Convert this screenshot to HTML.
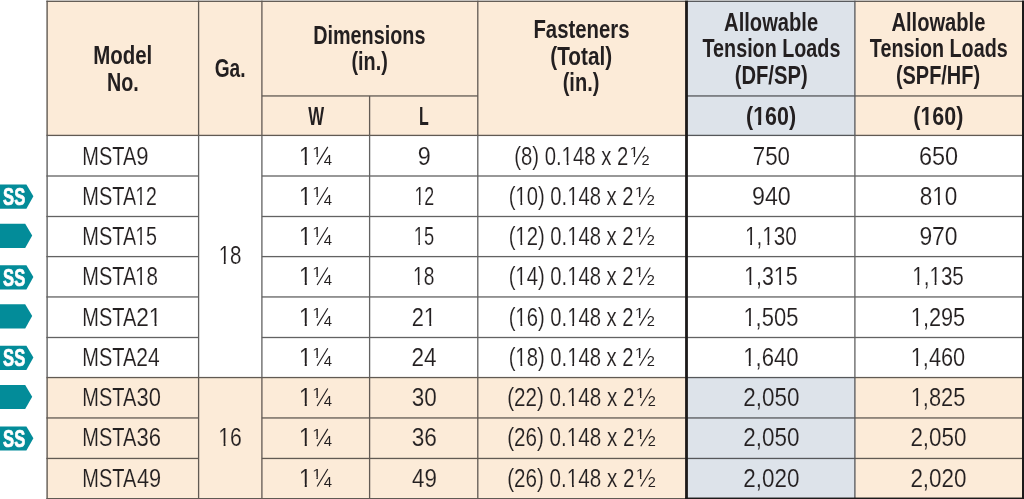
<!DOCTYPE html>
<html><head><meta charset="utf-8"><title>MSTA Strap Tie Table</title>
<style>
html,body{margin:0;padding:0;background:#fff;overflow:hidden}
svg{display:block;font-family:"Liberation Sans",sans-serif}
</style></head><body>
<svg width="1024" height="499" viewBox="0 0 1024 499">
<rect x="47.10" y="1.30" width="639.40" height="134.10" fill="#fcebd8"/>
<rect x="686.50" y="1.30" width="168.50" height="134.10" fill="#dde3ea"/>
<rect x="855.00" y="1.30" width="168.00" height="134.10" fill="#fcebd8"/>
<rect x="47.10" y="377.55" width="639.40" height="120.95" fill="#fcebd8"/>
<rect x="686.50" y="377.55" width="168.50" height="120.95" fill="#dde3ea"/>
<rect x="855.00" y="377.55" width="168.00" height="120.95" fill="#fcebd8"/>
<rect x="46.40" y="0.62" width="640.10" height="1.35" fill="#615a53"/>
<rect x="686.50" y="0.62" width="168.50" height="1.35" fill="#55575a"/>
<rect x="855.00" y="0.62" width="169.00" height="1.35" fill="#615a53"/>
<rect x="261.80" y="95.30" width="216.10" height="1.30" fill="#615a53"/>
<rect x="686.50" y="95.30" width="168.50" height="1.30" fill="#55575a"/>
<rect x="855.00" y="95.30" width="167.00" height="1.30" fill="#615a53"/>
<rect x="46.40" y="134.75" width="640.10" height="1.30" fill="#615a53"/>
<rect x="686.50" y="134.75" width="168.50" height="1.30" fill="#55575a"/>
<rect x="855.00" y="134.75" width="167.00" height="1.30" fill="#615a53"/>
<rect x="46.40" y="175.35" width="152.20" height="1.30" fill="#626262"/>
<rect x="261.80" y="175.35" width="424.70" height="1.30" fill="#626262"/>
<rect x="686.50" y="175.35" width="168.50" height="1.30" fill="#626262"/>
<rect x="855.00" y="175.35" width="167.00" height="1.30" fill="#626262"/>
<rect x="46.40" y="215.85" width="152.20" height="1.30" fill="#626262"/>
<rect x="261.80" y="215.85" width="424.70" height="1.30" fill="#626262"/>
<rect x="686.50" y="215.85" width="168.50" height="1.30" fill="#626262"/>
<rect x="855.00" y="215.85" width="167.00" height="1.30" fill="#626262"/>
<rect x="46.40" y="255.95" width="152.20" height="1.30" fill="#626262"/>
<rect x="261.80" y="255.95" width="424.70" height="1.30" fill="#626262"/>
<rect x="686.50" y="255.95" width="168.50" height="1.30" fill="#626262"/>
<rect x="855.00" y="255.95" width="167.00" height="1.30" fill="#626262"/>
<rect x="46.40" y="296.30" width="152.20" height="1.30" fill="#626262"/>
<rect x="261.80" y="296.30" width="424.70" height="1.30" fill="#626262"/>
<rect x="686.50" y="296.30" width="168.50" height="1.30" fill="#626262"/>
<rect x="855.00" y="296.30" width="167.00" height="1.30" fill="#626262"/>
<rect x="46.40" y="336.85" width="152.20" height="1.30" fill="#626262"/>
<rect x="261.80" y="336.85" width="424.70" height="1.30" fill="#626262"/>
<rect x="686.50" y="336.85" width="168.50" height="1.30" fill="#626262"/>
<rect x="855.00" y="336.85" width="167.00" height="1.30" fill="#626262"/>
<rect x="46.40" y="376.90" width="640.10" height="1.30" fill="#615a53"/>
<rect x="686.50" y="376.90" width="168.50" height="1.30" fill="#55575a"/>
<rect x="855.00" y="376.90" width="167.00" height="1.30" fill="#615a53"/>
<rect x="46.40" y="417.30" width="152.20" height="1.30" fill="#615a53"/>
<rect x="261.80" y="417.30" width="424.70" height="1.30" fill="#615a53"/>
<rect x="686.50" y="417.30" width="168.50" height="1.30" fill="#55575a"/>
<rect x="855.00" y="417.30" width="167.00" height="1.30" fill="#615a53"/>
<rect x="46.40" y="457.80" width="152.20" height="1.30" fill="#615a53"/>
<rect x="261.80" y="457.80" width="424.70" height="1.30" fill="#615a53"/>
<rect x="686.50" y="457.80" width="168.50" height="1.30" fill="#55575a"/>
<rect x="855.00" y="457.80" width="167.00" height="1.30" fill="#615a53"/>
<rect x="46.40" y="498.00" width="639.60" height="1.40" fill="#615a53"/>
<rect x="46.40" y="0.65" width="1.40" height="134.75" fill="#615a53"/>
<rect x="46.40" y="135.40" width="1.40" height="242.15" fill="#626262"/>
<rect x="46.40" y="377.55" width="1.40" height="121.45" fill="#615a53"/>
<rect x="197.95" y="0.70" width="1.30" height="134.70" fill="#615a53"/>
<rect x="197.95" y="135.40" width="1.30" height="242.15" fill="#626262"/>
<rect x="197.95" y="377.55" width="1.30" height="121.45" fill="#615a53"/>
<rect x="261.25" y="0.70" width="1.30" height="134.70" fill="#615a53"/>
<rect x="261.25" y="135.40" width="1.30" height="242.15" fill="#626262"/>
<rect x="261.25" y="377.55" width="1.30" height="121.45" fill="#615a53"/>
<rect x="368.95" y="95.95" width="1.30" height="39.45" fill="#615a53"/>
<rect x="368.95" y="135.40" width="1.30" height="242.15" fill="#626262"/>
<rect x="368.95" y="377.55" width="1.30" height="121.45" fill="#615a53"/>
<rect x="477.15" y="0.70" width="1.30" height="134.70" fill="#615a53"/>
<rect x="477.15" y="135.40" width="1.30" height="242.15" fill="#626262"/>
<rect x="477.15" y="377.55" width="1.30" height="121.45" fill="#615a53"/>
<rect x="854.25" y="0.70" width="1.30" height="134.70" fill="#55575a"/>
<rect x="854.25" y="135.40" width="1.30" height="242.15" fill="#626262"/>
<rect x="854.25" y="377.55" width="1.30" height="121.45" fill="#55575a"/>
<rect x="685.00" y="497.55" width="339.00" height="1.70" fill="#1c1a1a"/>
<rect x="685.10" y="0.65" width="2.80" height="498.35" fill="#1c1a1a"/>
<rect x="1022.00" y="0.65" width="2.80" height="498.35" fill="#1c1a1a"/>
<g opacity="0.999">
<g transform="translate(93.22 64.00) scale(0.8124 1)"><text font-size="25.2" font-weight="700" fill="#231f20">Model</text></g>
<g transform="translate(107.07 90.90) scale(0.7829 1)"><text font-size="25.2" font-weight="700" fill="#231f20">No.</text></g>
<g transform="translate(214.63 77.40) scale(0.7594 1)"><text font-size="25.2" font-weight="700" fill="#231f20">Ga.</text></g>
<g transform="translate(313.16 44.00) scale(0.7865 1)"><text font-size="25.2" font-weight="700" fill="#231f20">Dimensions</text></g>
<g transform="translate(351.41 70.40) scale(0.7879 1)"><text font-size="25.2" font-weight="700" fill="#231f20">(in.)</text></g>
<g transform="translate(308.26 125.00) scale(0.6670 1)"><text font-size="25.2" font-weight="700" fill="#231f20">W</text></g>
<g transform="translate(418.92 125.00) scale(0.6349 1)"><text font-size="25.2" font-weight="700" fill="#231f20">L</text></g>
<g transform="translate(533.43 37.90) scale(0.8074 1)"><text font-size="25.2" font-weight="700" fill="#231f20">Fasteners</text></g>
<g transform="translate(550.26 64.50) scale(0.8240 1)"><text font-size="25.2" font-weight="700" fill="#231f20">(Total)</text></g>
<g transform="translate(562.70 90.60) scale(0.7948 1)"><text font-size="25.2" font-weight="700" fill="#231f20">(in.)</text></g>
<g transform="translate(724.10 31.00) scale(0.7997 1)"><text font-size="25.2" font-weight="700" fill="#231f20">Allowable</text></g>
<g transform="translate(702.50 57.45) scale(0.7845 1)"><text font-size="25.2" font-weight="700" fill="#231f20">Tension Loads</text></g>
<g transform="translate(734.69 83.75) scale(0.8027 1)"><text font-size="25.2" font-weight="700" fill="#231f20">(DF/SP)</text></g>
<g transform="translate(746.03 125.20) scale(0.8505 1)"><text font-size="25.2" font-weight="700" fill="#231f20">(160)</text><rect x="8.80" y="-3.62" width="5.41" height="4.57" fill="#dde3ea"/><rect x="17.79" y="-3.62" width="5.08" height="4.57" fill="#dde3ea"/></g>
<g transform="translate(891.40 31.00) scale(0.7997 1)"><text font-size="25.2" font-weight="700" fill="#231f20">Allowable</text></g>
<g transform="translate(869.80 57.45) scale(0.7845 1)"><text font-size="25.2" font-weight="700" fill="#231f20">Tension Loads</text></g>
<g transform="translate(895.90 83.75) scale(0.7912 1)"><text font-size="25.2" font-weight="700" fill="#231f20">(SPF/HF)</text></g>
<g transform="translate(913.33 125.20) scale(0.8505 1)"><text font-size="25.2" font-weight="700" fill="#231f20">(160)</text><rect x="8.80" y="-3.62" width="5.41" height="4.57" fill="#fcebd8"/><rect x="17.79" y="-3.62" width="5.08" height="4.57" fill="#fcebd8"/></g>
<g transform="translate(82.25 164.50) scale(0.7752 1)"><text font-size="25.8" fill="#231f20" stroke="#fff" stroke-width="0.12" vector-effect="non-scaling-stroke">MSTA</text></g>
<g transform="translate(136.15 164.50) scale(0.8229 0.98)"><text font-size="26.8" fill="#231f20" stroke="#fff" stroke-width="0.12" vector-effect="non-scaling-stroke">9</text></g>
<g transform="translate(298.74 164.50) scale(0.8895 0.98)"><text font-size="26.8" fill="#231f20" stroke="#fff" stroke-width="0.12" vector-effect="non-scaling-stroke">1</text><rect x="0.91" y="-3.06" width="5.81" height="4.01" fill="#fff"/><rect x="9.11" y="-3.06" width="5.60" height="4.01" fill="#fff"/></g>
<g transform="translate(312.23 156.60) scale(1.1584 1)"><text font-size="14.3" fill="#231f20">1</text><rect x="0.22" y="-2.12" width="3.37" height="3.07" fill="#fff"/><rect x="4.86" y="-2.12" width="3.25" height="3.07" fill="#fff"/></g>
<line x1="317.15" y1="164.35" x2="327.80" y2="146.90" stroke="#231f20" stroke-width="1.15"/>
<g transform="translate(323.77 164.50) scale(0.9901 1)"><text font-size="15.0" fill="#231f20">4</text></g>
<g transform="translate(417.69 164.50) scale(0.8713 0.98)"><text font-size="26.8" fill="#231f20" stroke="#fff" stroke-width="0.12" vector-effect="non-scaling-stroke">9</text></g>
<g transform="translate(514.23 164.50) scale(0.7578 0.98)"><text font-size="26.8" fill="#231f20" stroke="#fff" stroke-width="0.12" vector-effect="non-scaling-stroke">(8) 0.148 x 2</text><rect x="63.27" y="-3.06" width="6.01" height="4.01" fill="#fff"/><rect x="71.66" y="-3.06" width="5.80" height="4.01" fill="#fff"/></g>
<g transform="translate(629.43 156.60) scale(1.1584 1)"><text font-size="14.3" fill="#231f20">1</text><rect x="0.22" y="-2.12" width="3.37" height="3.07" fill="#fff"/><rect x="4.86" y="-2.12" width="3.25" height="3.07" fill="#fff"/></g>
<line x1="634.35" y1="164.35" x2="645.00" y2="146.90" stroke="#231f20" stroke-width="1.15"/>
<g transform="translate(641.47 164.50) scale(0.9670 1)"><text font-size="15.0" fill="#231f20">2</text></g>
<g transform="translate(752.73 164.50) scale(0.8326 0.98)"><text font-size="26.8" fill="#231f20" stroke="#fff" stroke-width="0.12" vector-effect="non-scaling-stroke">750</text></g>
<g transform="translate(918.88 164.50) scale(0.8762 0.98)"><text font-size="26.8" fill="#231f20" stroke="#fff" stroke-width="0.12" vector-effect="non-scaling-stroke">650</text></g>
<g transform="translate(82.25 204.85) scale(0.7752 1)"><text font-size="25.8" fill="#231f20" stroke="#fff" stroke-width="0.12" vector-effect="non-scaling-stroke">MSTA</text></g>
<g transform="translate(135.15 204.85) scale(0.7269 0.98)"><text font-size="26.8" fill="#231f20" stroke="#fff" stroke-width="0.12" vector-effect="non-scaling-stroke">12</text><rect x="0.66" y="-3.06" width="6.07" height="4.01" fill="#fff"/><rect x="9.11" y="-3.06" width="5.85" height="4.01" fill="#fff"/></g>
<g transform="translate(298.74 204.85) scale(0.8895 0.98)"><text font-size="26.8" fill="#231f20" stroke="#fff" stroke-width="0.12" vector-effect="non-scaling-stroke">1</text><rect x="0.91" y="-3.06" width="5.81" height="4.01" fill="#fff"/><rect x="9.11" y="-3.06" width="5.60" height="4.01" fill="#fff"/></g>
<g transform="translate(312.23 196.95) scale(1.1584 1)"><text font-size="14.3" fill="#231f20">1</text><rect x="0.22" y="-2.12" width="3.37" height="3.07" fill="#fff"/><rect x="4.86" y="-2.12" width="3.25" height="3.07" fill="#fff"/></g>
<line x1="317.15" y1="204.70" x2="327.80" y2="187.25" stroke="#231f20" stroke-width="1.15"/>
<g transform="translate(323.77 204.85) scale(0.9901 1)"><text font-size="15.0" fill="#231f20">4</text></g>
<g transform="translate(414.41 204.85) scale(0.6651 0.98)"><text font-size="26.8" fill="#231f20" stroke="#fff" stroke-width="0.12" vector-effect="non-scaling-stroke">12</text><rect x="0.53" y="-3.06" width="6.19" height="4.01" fill="#fff"/><rect x="9.11" y="-3.06" width="5.98" height="4.01" fill="#fff"/></g>
<g transform="translate(508.63 204.85) scale(0.7558 0.98)"><text font-size="26.8" fill="#231f20" stroke="#fff" stroke-width="0.12" vector-effect="non-scaling-stroke">(10) 0.148 x 2</text><rect x="9.64" y="-3.06" width="6.01" height="4.01" fill="#fff"/><rect x="18.04" y="-3.06" width="5.80" height="4.01" fill="#fff"/><rect x="78.17" y="-3.06" width="6.01" height="4.01" fill="#fff"/><rect x="86.57" y="-3.06" width="5.80" height="4.01" fill="#fff"/></g>
<g transform="translate(634.73 196.95) scale(1.1584 1)"><text font-size="14.3" fill="#231f20">1</text><rect x="0.22" y="-2.12" width="3.37" height="3.07" fill="#fff"/><rect x="4.86" y="-2.12" width="3.25" height="3.07" fill="#fff"/></g>
<line x1="639.65" y1="204.70" x2="650.30" y2="187.25" stroke="#231f20" stroke-width="1.15"/>
<g transform="translate(646.77 204.85) scale(0.9670 1)"><text font-size="15.0" fill="#231f20">2</text></g>
<g transform="translate(752.00 204.85) scale(0.8677 0.98)"><text font-size="26.8" fill="#231f20" stroke="#fff" stroke-width="0.12" vector-effect="non-scaling-stroke">940</text></g>
<g transform="translate(919.74 204.85) scale(0.8415 0.98)"><text font-size="26.8" fill="#231f20" stroke="#fff" stroke-width="0.12" vector-effect="non-scaling-stroke">810</text><rect x="15.75" y="-3.06" width="5.88" height="4.01" fill="#fff"/><rect x="24.02" y="-3.06" width="5.66" height="4.01" fill="#fff"/></g>
<g transform="translate(82.25 244.90) scale(0.7752 1)"><text font-size="25.8" fill="#231f20" stroke="#fff" stroke-width="0.12" vector-effect="non-scaling-stroke">MSTA</text></g>
<g transform="translate(135.13 244.90) scale(0.7348 0.98)"><text font-size="26.8" fill="#231f20" stroke="#fff" stroke-width="0.12" vector-effect="non-scaling-stroke">15</text><rect x="0.68" y="-3.06" width="6.05" height="4.01" fill="#fff"/><rect x="9.11" y="-3.06" width="5.84" height="4.01" fill="#fff"/></g>
<g transform="translate(298.74 244.90) scale(0.8895 0.98)"><text font-size="26.8" fill="#231f20" stroke="#fff" stroke-width="0.12" vector-effect="non-scaling-stroke">1</text><rect x="0.91" y="-3.06" width="5.81" height="4.01" fill="#fff"/><rect x="9.11" y="-3.06" width="5.60" height="4.01" fill="#fff"/></g>
<g transform="translate(312.23 237.00) scale(1.1584 1)"><text font-size="14.3" fill="#231f20">1</text><rect x="0.22" y="-2.12" width="3.37" height="3.07" fill="#fff"/><rect x="4.86" y="-2.12" width="3.25" height="3.07" fill="#fff"/></g>
<line x1="317.15" y1="244.75" x2="327.80" y2="227.30" stroke="#231f20" stroke-width="1.15"/>
<g transform="translate(323.77 244.90) scale(0.9901 1)"><text font-size="15.0" fill="#231f20">4</text></g>
<g transform="translate(413.77 244.90) scale(0.6812 0.98)"><text font-size="26.8" fill="#231f20" stroke="#fff" stroke-width="0.12" vector-effect="non-scaling-stroke">15</text><rect x="0.57" y="-3.06" width="6.16" height="4.01" fill="#fff"/><rect x="9.11" y="-3.06" width="5.94" height="4.01" fill="#fff"/></g>
<g transform="translate(508.63 244.90) scale(0.7558 0.98)"><text font-size="26.8" fill="#231f20" stroke="#fff" stroke-width="0.12" vector-effect="non-scaling-stroke">(12) 0.148 x 2</text><rect x="9.64" y="-3.06" width="6.01" height="4.01" fill="#fff"/><rect x="18.04" y="-3.06" width="5.80" height="4.01" fill="#fff"/><rect x="78.17" y="-3.06" width="6.01" height="4.01" fill="#fff"/><rect x="86.57" y="-3.06" width="5.80" height="4.01" fill="#fff"/></g>
<g transform="translate(634.73 237.00) scale(1.1584 1)"><text font-size="14.3" fill="#231f20">1</text><rect x="0.22" y="-2.12" width="3.37" height="3.07" fill="#fff"/><rect x="4.86" y="-2.12" width="3.25" height="3.07" fill="#fff"/></g>
<line x1="639.65" y1="244.75" x2="650.30" y2="227.30" stroke="#231f20" stroke-width="1.15"/>
<g transform="translate(646.77 244.90) scale(0.9670 1)"><text font-size="15.0" fill="#231f20">2</text></g>
<g transform="translate(744.98 244.90) scale(0.7730 0.98)"><text font-size="26.8" fill="#231f20" stroke="#fff" stroke-width="0.12" vector-effect="non-scaling-stroke">1,130</text><rect x="0.74" y="-3.06" width="5.98" height="4.01" fill="#fff"/><rect x="9.11" y="-3.06" width="5.77" height="4.01" fill="#fff"/><rect x="23.10" y="-3.06" width="5.98" height="4.01" fill="#fff"/><rect x="31.46" y="-3.06" width="5.77" height="4.01" fill="#fff"/></g>
<g transform="translate(919.41 244.90) scale(0.8536 0.98)"><text font-size="26.8" fill="#231f20" stroke="#fff" stroke-width="0.12" vector-effect="non-scaling-stroke">970</text></g>
<g transform="translate(82.25 285.10) scale(0.7752 1)"><text font-size="25.8" fill="#231f20" stroke="#fff" stroke-width="0.12" vector-effect="non-scaling-stroke">MSTA</text></g>
<g transform="translate(135.05 285.10) scale(0.7674 0.98)"><text font-size="26.8" fill="#231f20" stroke="#fff" stroke-width="0.12" vector-effect="non-scaling-stroke">18</text><rect x="0.73" y="-3.06" width="5.99" height="4.01" fill="#fff"/><rect x="9.11" y="-3.06" width="5.78" height="4.01" fill="#fff"/></g>
<g transform="translate(298.74 285.10) scale(0.8895 0.98)"><text font-size="26.8" fill="#231f20" stroke="#fff" stroke-width="0.12" vector-effect="non-scaling-stroke">1</text><rect x="0.91" y="-3.06" width="5.81" height="4.01" fill="#fff"/><rect x="9.11" y="-3.06" width="5.60" height="4.01" fill="#fff"/></g>
<g transform="translate(312.23 277.20) scale(1.1584 1)"><text font-size="14.3" fill="#231f20">1</text><rect x="0.22" y="-2.12" width="3.37" height="3.07" fill="#fff"/><rect x="4.86" y="-2.12" width="3.25" height="3.07" fill="#fff"/></g>
<line x1="317.15" y1="284.95" x2="327.80" y2="267.50" stroke="#231f20" stroke-width="1.15"/>
<g transform="translate(323.77 285.10) scale(0.9901 1)"><text font-size="15.0" fill="#231f20">4</text></g>
<g transform="translate(413.08 285.10) scale(0.7137 0.98)"><text font-size="26.8" fill="#231f20" stroke="#fff" stroke-width="0.12" vector-effect="non-scaling-stroke">18</text><rect x="0.64" y="-3.06" width="6.09" height="4.01" fill="#fff"/><rect x="9.11" y="-3.06" width="5.88" height="4.01" fill="#fff"/></g>
<g transform="translate(508.63 285.10) scale(0.7558 0.98)"><text font-size="26.8" fill="#231f20" stroke="#fff" stroke-width="0.12" vector-effect="non-scaling-stroke">(14) 0.148 x 2</text><rect x="9.64" y="-3.06" width="6.01" height="4.01" fill="#fff"/><rect x="18.04" y="-3.06" width="5.80" height="4.01" fill="#fff"/><rect x="78.17" y="-3.06" width="6.01" height="4.01" fill="#fff"/><rect x="86.57" y="-3.06" width="5.80" height="4.01" fill="#fff"/></g>
<g transform="translate(634.73 277.20) scale(1.1584 1)"><text font-size="14.3" fill="#231f20">1</text><rect x="0.22" y="-2.12" width="3.37" height="3.07" fill="#fff"/><rect x="4.86" y="-2.12" width="3.25" height="3.07" fill="#fff"/></g>
<line x1="639.65" y1="284.95" x2="650.30" y2="267.50" stroke="#231f20" stroke-width="1.15"/>
<g transform="translate(646.77 285.10) scale(0.9670 1)"><text font-size="15.0" fill="#231f20">2</text></g>
<g transform="translate(744.06 285.10) scale(0.8006 0.98)"><text font-size="26.8" fill="#231f20" stroke="#fff" stroke-width="0.12" vector-effect="non-scaling-stroke">1,315</text><rect x="0.79" y="-3.06" width="5.94" height="4.01" fill="#fff"/><rect x="9.11" y="-3.06" width="5.72" height="4.01" fill="#fff"/><rect x="38.05" y="-3.06" width="5.94" height="4.01" fill="#fff"/><rect x="46.37" y="-3.06" width="5.72" height="4.01" fill="#fff"/></g>
<g transform="translate(912.19 285.10) scale(0.7707 0.98)"><text font-size="26.8" fill="#231f20" stroke="#fff" stroke-width="0.12" vector-effect="non-scaling-stroke">1,135</text><rect x="0.74" y="-3.06" width="5.99" height="4.01" fill="#fff"/><rect x="9.11" y="-3.06" width="5.77" height="4.01" fill="#fff"/><rect x="23.09" y="-3.06" width="5.99" height="4.01" fill="#fff"/><rect x="31.46" y="-3.06" width="5.77" height="4.01" fill="#fff"/></g>
<g transform="translate(82.25 325.80) scale(0.7752 1)"><text font-size="25.8" fill="#231f20" stroke="#fff" stroke-width="0.12" vector-effect="non-scaling-stroke">MSTA</text></g>
<g transform="translate(136.27 325.80) scale(0.8453 0.98)"><text font-size="26.8" fill="#231f20" stroke="#fff" stroke-width="0.12" vector-effect="non-scaling-stroke">21</text><rect x="15.76" y="-3.06" width="5.87" height="4.01" fill="#fff"/><rect x="24.02" y="-3.06" width="5.66" height="4.01" fill="#fff"/></g>
<g transform="translate(298.74 325.80) scale(0.8895 0.98)"><text font-size="26.8" fill="#231f20" stroke="#fff" stroke-width="0.12" vector-effect="non-scaling-stroke">1</text><rect x="0.91" y="-3.06" width="5.81" height="4.01" fill="#fff"/><rect x="9.11" y="-3.06" width="5.60" height="4.01" fill="#fff"/></g>
<g transform="translate(312.23 317.90) scale(1.1584 1)"><text font-size="14.3" fill="#231f20">1</text><rect x="0.22" y="-2.12" width="3.37" height="3.07" fill="#fff"/><rect x="4.86" y="-2.12" width="3.25" height="3.07" fill="#fff"/></g>
<line x1="317.15" y1="325.65" x2="327.80" y2="308.20" stroke="#231f20" stroke-width="1.15"/>
<g transform="translate(323.77 325.80) scale(0.9901 1)"><text font-size="15.0" fill="#231f20">4</text></g>
<g transform="translate(411.71 325.80) scale(0.8145 0.98)"><text font-size="26.8" fill="#231f20" stroke="#fff" stroke-width="0.12" vector-effect="non-scaling-stroke">21</text><rect x="15.71" y="-3.06" width="5.92" height="4.01" fill="#fff"/><rect x="24.02" y="-3.06" width="5.70" height="4.01" fill="#fff"/></g>
<g transform="translate(508.63 325.80) scale(0.7558 0.98)"><text font-size="26.8" fill="#231f20" stroke="#fff" stroke-width="0.12" vector-effect="non-scaling-stroke">(16) 0.148 x 2</text><rect x="9.64" y="-3.06" width="6.01" height="4.01" fill="#fff"/><rect x="18.04" y="-3.06" width="5.80" height="4.01" fill="#fff"/><rect x="78.17" y="-3.06" width="6.01" height="4.01" fill="#fff"/><rect x="86.57" y="-3.06" width="5.80" height="4.01" fill="#fff"/></g>
<g transform="translate(634.73 317.90) scale(1.1584 1)"><text font-size="14.3" fill="#231f20">1</text><rect x="0.22" y="-2.12" width="3.37" height="3.07" fill="#fff"/><rect x="4.86" y="-2.12" width="3.25" height="3.07" fill="#fff"/></g>
<line x1="639.65" y1="325.65" x2="650.30" y2="308.20" stroke="#231f20" stroke-width="1.15"/>
<g transform="translate(646.77 325.80) scale(0.9670 1)"><text font-size="15.0" fill="#231f20">2</text></g>
<g transform="translate(743.41 325.80) scale(0.8196 0.98)"><text font-size="26.8" fill="#231f20" stroke="#fff" stroke-width="0.12" vector-effect="non-scaling-stroke">1,505</text><rect x="0.82" y="-3.06" width="5.91" height="4.01" fill="#fff"/><rect x="9.11" y="-3.06" width="5.70" height="4.01" fill="#fff"/></g>
<g transform="translate(910.84 325.80) scale(0.8101 0.98)"><text font-size="26.8" fill="#231f20" stroke="#fff" stroke-width="0.12" vector-effect="non-scaling-stroke">1,295</text><rect x="0.80" y="-3.06" width="5.92" height="4.01" fill="#fff"/><rect x="9.11" y="-3.06" width="5.71" height="4.01" fill="#fff"/></g>
<g transform="translate(82.25 365.90) scale(0.7752 1)"><text font-size="25.8" fill="#231f20" stroke="#fff" stroke-width="0.12" vector-effect="non-scaling-stroke">MSTA</text></g>
<g transform="translate(136.35 365.90) scale(0.7842 0.98)"><text font-size="26.8" fill="#231f20" stroke="#fff" stroke-width="0.12" vector-effect="non-scaling-stroke">24</text></g>
<g transform="translate(298.74 365.90) scale(0.8895 0.98)"><text font-size="26.8" fill="#231f20" stroke="#fff" stroke-width="0.12" vector-effect="non-scaling-stroke">1</text><rect x="0.91" y="-3.06" width="5.81" height="4.01" fill="#fff"/><rect x="9.11" y="-3.06" width="5.60" height="4.01" fill="#fff"/></g>
<g transform="translate(312.23 358.00) scale(1.1584 1)"><text font-size="14.3" fill="#231f20">1</text><rect x="0.22" y="-2.12" width="3.37" height="3.07" fill="#fff"/><rect x="4.86" y="-2.12" width="3.25" height="3.07" fill="#fff"/></g>
<line x1="317.15" y1="365.75" x2="327.80" y2="348.30" stroke="#231f20" stroke-width="1.15"/>
<g transform="translate(323.77 365.90) scale(0.9901 1)"><text font-size="15.0" fill="#231f20">4</text></g>
<g transform="translate(411.47 365.90) scale(0.8420 0.98)"><text font-size="26.8" fill="#231f20" stroke="#fff" stroke-width="0.12" vector-effect="non-scaling-stroke">24</text></g>
<g transform="translate(508.63 365.90) scale(0.7558 0.98)"><text font-size="26.8" fill="#231f20" stroke="#fff" stroke-width="0.12" vector-effect="non-scaling-stroke">(18) 0.148 x 2</text><rect x="9.64" y="-3.06" width="6.01" height="4.01" fill="#fff"/><rect x="18.04" y="-3.06" width="5.80" height="4.01" fill="#fff"/><rect x="78.17" y="-3.06" width="6.01" height="4.01" fill="#fff"/><rect x="86.57" y="-3.06" width="5.80" height="4.01" fill="#fff"/></g>
<g transform="translate(634.73 358.00) scale(1.1584 1)"><text font-size="14.3" fill="#231f20">1</text><rect x="0.22" y="-2.12" width="3.37" height="3.07" fill="#fff"/><rect x="4.86" y="-2.12" width="3.25" height="3.07" fill="#fff"/></g>
<line x1="639.65" y1="365.75" x2="650.30" y2="348.30" stroke="#231f20" stroke-width="1.15"/>
<g transform="translate(646.77 365.90) scale(0.9670 1)"><text font-size="15.0" fill="#231f20">2</text></g>
<g transform="translate(743.20 365.90) scale(0.8250 0.98)"><text font-size="26.8" fill="#231f20" stroke="#fff" stroke-width="0.12" vector-effect="non-scaling-stroke">1,640</text><rect x="0.82" y="-3.06" width="5.90" height="4.01" fill="#fff"/><rect x="9.11" y="-3.06" width="5.69" height="4.01" fill="#fff"/></g>
<g transform="translate(910.73 365.90) scale(0.8124 0.98)"><text font-size="26.8" fill="#231f20" stroke="#fff" stroke-width="0.12" vector-effect="non-scaling-stroke">1,460</text><rect x="0.81" y="-3.06" width="5.92" height="4.01" fill="#fff"/><rect x="9.11" y="-3.06" width="5.71" height="4.01" fill="#fff"/></g>
<g transform="translate(82.25 406.10) scale(0.7752 1)"><text font-size="25.8" fill="#231f20" stroke="#fcebd8" stroke-width="0.12" vector-effect="non-scaling-stroke">MSTA</text></g>
<g transform="translate(136.58 406.10) scale(0.8184 0.98)"><text font-size="26.8" fill="#231f20" stroke="#fcebd8" stroke-width="0.12" vector-effect="non-scaling-stroke">30</text></g>
<g transform="translate(298.74 406.10) scale(0.8895 0.98)"><text font-size="26.8" fill="#231f20" stroke="#fcebd8" stroke-width="0.12" vector-effect="non-scaling-stroke">1</text><rect x="0.91" y="-3.06" width="5.81" height="4.01" fill="#fcebd8"/><rect x="9.11" y="-3.06" width="5.60" height="4.01" fill="#fcebd8"/></g>
<g transform="translate(312.23 398.20) scale(1.1584 1)"><text font-size="14.3" fill="#231f20">1</text><rect x="0.22" y="-2.12" width="3.37" height="3.07" fill="#fcebd8"/><rect x="4.86" y="-2.12" width="3.25" height="3.07" fill="#fcebd8"/></g>
<line x1="317.15" y1="405.95" x2="327.80" y2="388.50" stroke="#231f20" stroke-width="1.15"/>
<g transform="translate(323.77 406.10) scale(0.9901 1)"><text font-size="15.0" fill="#231f20">4</text></g>
<g transform="translate(411.76 406.10) scale(0.8400 0.98)"><text font-size="26.8" fill="#231f20" stroke="#fcebd8" stroke-width="0.12" vector-effect="non-scaling-stroke">30</text></g>
<g transform="translate(507.21 406.10) scale(0.7700 0.98)"><text font-size="26.8" fill="#231f20" stroke="#fcebd8" stroke-width="0.12" vector-effect="non-scaling-stroke">(22) 0.148 x 2</text><rect x="78.20" y="-3.06" width="5.99" height="4.01" fill="#fcebd8"/><rect x="86.57" y="-3.06" width="5.77" height="4.01" fill="#fcebd8"/></g>
<g transform="translate(635.83 398.20) scale(1.1584 1)"><text font-size="14.3" fill="#231f20">1</text><rect x="0.22" y="-2.12" width="3.37" height="3.07" fill="#fcebd8"/><rect x="4.86" y="-2.12" width="3.25" height="3.07" fill="#fcebd8"/></g>
<line x1="640.75" y1="405.95" x2="651.40" y2="388.50" stroke="#231f20" stroke-width="1.15"/>
<g transform="translate(647.87 406.10) scale(0.9670 1)"><text font-size="15.0" fill="#231f20">2</text></g>
<g transform="translate(743.28 406.10) scale(0.8374 0.98)"><text font-size="26.8" fill="#231f20" stroke="#dde3ea" stroke-width="0.12" vector-effect="non-scaling-stroke">2,050</text></g>
<g transform="translate(910.73 406.10) scale(0.8133 0.98)"><text font-size="26.8" fill="#231f20" stroke="#fcebd8" stroke-width="0.12" vector-effect="non-scaling-stroke">1,825</text><rect x="0.81" y="-3.06" width="5.92" height="4.01" fill="#fcebd8"/><rect x="9.11" y="-3.06" width="5.71" height="4.01" fill="#fcebd8"/></g>
<g transform="translate(82.25 446.45) scale(0.7752 1)"><text font-size="25.8" fill="#231f20" stroke="#fcebd8" stroke-width="0.12" vector-effect="non-scaling-stroke">MSTA</text></g>
<g transform="translate(136.57 446.45) scale(0.8223 0.98)"><text font-size="26.8" fill="#231f20" stroke="#fcebd8" stroke-width="0.12" vector-effect="non-scaling-stroke">36</text></g>
<g transform="translate(298.74 446.45) scale(0.8895 0.98)"><text font-size="26.8" fill="#231f20" stroke="#fcebd8" stroke-width="0.12" vector-effect="non-scaling-stroke">1</text><rect x="0.91" y="-3.06" width="5.81" height="4.01" fill="#fcebd8"/><rect x="9.11" y="-3.06" width="5.60" height="4.01" fill="#fcebd8"/></g>
<g transform="translate(312.23 438.55) scale(1.1584 1)"><text font-size="14.3" fill="#231f20">1</text><rect x="0.22" y="-2.12" width="3.37" height="3.07" fill="#fcebd8"/><rect x="4.86" y="-2.12" width="3.25" height="3.07" fill="#fcebd8"/></g>
<line x1="317.15" y1="446.30" x2="327.80" y2="428.85" stroke="#231f20" stroke-width="1.15"/>
<g transform="translate(323.77 446.45) scale(0.9901 1)"><text font-size="15.0" fill="#231f20">4</text></g>
<g transform="translate(411.75 446.45) scale(0.8441 0.98)"><text font-size="26.8" fill="#231f20" stroke="#fcebd8" stroke-width="0.12" vector-effect="non-scaling-stroke">36</text></g>
<g transform="translate(507.21 446.45) scale(0.7700 0.98)"><text font-size="26.8" fill="#231f20" stroke="#fcebd8" stroke-width="0.12" vector-effect="non-scaling-stroke">(26) 0.148 x 2</text><rect x="78.20" y="-3.06" width="5.99" height="4.01" fill="#fcebd8"/><rect x="86.57" y="-3.06" width="5.77" height="4.01" fill="#fcebd8"/></g>
<g transform="translate(635.83 438.55) scale(1.1584 1)"><text font-size="14.3" fill="#231f20">1</text><rect x="0.22" y="-2.12" width="3.37" height="3.07" fill="#fcebd8"/><rect x="4.86" y="-2.12" width="3.25" height="3.07" fill="#fcebd8"/></g>
<line x1="640.75" y1="446.30" x2="651.40" y2="428.85" stroke="#231f20" stroke-width="1.15"/>
<g transform="translate(647.87 446.45) scale(0.9670 1)"><text font-size="15.0" fill="#231f20">2</text></g>
<g transform="translate(743.28 446.45) scale(0.8374 0.98)"><text font-size="26.8" fill="#231f20" stroke="#dde3ea" stroke-width="0.12" vector-effect="non-scaling-stroke">2,050</text></g>
<g transform="translate(910.38 446.45) scale(0.8374 0.98)"><text font-size="26.8" fill="#231f20" stroke="#fcebd8" stroke-width="0.12" vector-effect="non-scaling-stroke">2,050</text></g>
<g transform="translate(82.25 486.65) scale(0.7752 1)"><text font-size="25.8" fill="#231f20" stroke="#fcebd8" stroke-width="0.12" vector-effect="non-scaling-stroke">MSTA</text></g>
<g transform="translate(136.91 486.65) scale(0.8125 0.98)"><text font-size="26.8" fill="#231f20" stroke="#fcebd8" stroke-width="0.12" vector-effect="non-scaling-stroke">49</text></g>
<g transform="translate(298.74 486.65) scale(0.8895 0.98)"><text font-size="26.8" fill="#231f20" stroke="#fcebd8" stroke-width="0.12" vector-effect="non-scaling-stroke">1</text><rect x="0.91" y="-3.06" width="5.81" height="4.01" fill="#fcebd8"/><rect x="9.11" y="-3.06" width="5.60" height="4.01" fill="#fcebd8"/></g>
<g transform="translate(312.23 478.75) scale(1.1584 1)"><text font-size="14.3" fill="#231f20">1</text><rect x="0.22" y="-2.12" width="3.37" height="3.07" fill="#fcebd8"/><rect x="4.86" y="-2.12" width="3.25" height="3.07" fill="#fcebd8"/></g>
<line x1="317.15" y1="486.50" x2="327.80" y2="469.05" stroke="#231f20" stroke-width="1.15"/>
<g transform="translate(323.77 486.65) scale(0.9901 1)"><text font-size="15.0" fill="#231f20">4</text></g>
<g transform="translate(412.10 486.65) scale(0.8340 0.98)"><text font-size="26.8" fill="#231f20" stroke="#fcebd8" stroke-width="0.12" vector-effect="non-scaling-stroke">49</text></g>
<g transform="translate(507.21 486.65) scale(0.7700 0.98)"><text font-size="26.8" fill="#231f20" stroke="#fcebd8" stroke-width="0.12" vector-effect="non-scaling-stroke">(26) 0.148 x 2</text><rect x="78.20" y="-3.06" width="5.99" height="4.01" fill="#fcebd8"/><rect x="86.57" y="-3.06" width="5.77" height="4.01" fill="#fcebd8"/></g>
<g transform="translate(635.83 478.75) scale(1.1584 1)"><text font-size="14.3" fill="#231f20">1</text><rect x="0.22" y="-2.12" width="3.37" height="3.07" fill="#fcebd8"/><rect x="4.86" y="-2.12" width="3.25" height="3.07" fill="#fcebd8"/></g>
<line x1="640.75" y1="486.50" x2="651.40" y2="469.05" stroke="#231f20" stroke-width="1.15"/>
<g transform="translate(647.87 486.65) scale(0.9670 1)"><text font-size="15.0" fill="#231f20">2</text></g>
<g transform="translate(743.28 486.65) scale(0.8374 0.98)"><text font-size="26.8" fill="#231f20" stroke="#dde3ea" stroke-width="0.12" vector-effect="non-scaling-stroke">2,020</text></g>
<g transform="translate(910.38 486.65) scale(0.8374 0.98)"><text font-size="26.8" fill="#231f20" stroke="#fcebd8" stroke-width="0.12" vector-effect="non-scaling-stroke">2,020</text></g>
<g transform="translate(218.65 264.40) scale(0.7674 0.98)"><text font-size="26.8" fill="#231f20" stroke="#fff" stroke-width="0.12" vector-effect="non-scaling-stroke">18</text><rect x="0.73" y="-3.06" width="5.99" height="4.01" fill="#fff"/><rect x="9.11" y="-3.06" width="5.78" height="4.01" fill="#fff"/></g>
<g transform="translate(218.29 446.40) scale(0.7904 0.98)"><text font-size="26.8" fill="#231f20" stroke="#fcebd8" stroke-width="0.12" vector-effect="non-scaling-stroke">16</text><rect x="0.77" y="-3.06" width="5.96" height="4.01" fill="#fcebd8"/><rect x="9.11" y="-3.06" width="5.74" height="4.01" fill="#fcebd8"/></g>
<polygon points="0,184.60 26.4,184.60 33.4,196.35 26.4,208.80 0,208.80" fill="#038c99"/>
<g transform="translate(3.10 205.00) scale(0.7034 1)"><text font-size="23.6" font-weight="700" fill="#fff" stroke="#fff" stroke-width="0.75" stroke-linejoin="round">SS</text></g>
<polygon points="0,265.20 26.4,265.20 33.4,276.95 26.4,289.40 0,289.40" fill="#038c99"/>
<g transform="translate(3.10 285.60) scale(0.7034 1)"><text font-size="23.6" font-weight="700" fill="#fff" stroke="#fff" stroke-width="0.75" stroke-linejoin="round">SS</text></g>
<polygon points="0,345.80 26.4,345.80 33.4,357.55 26.4,370.00 0,370.00" fill="#038c99"/>
<g transform="translate(3.10 366.20) scale(0.7034 1)"><text font-size="23.6" font-weight="700" fill="#fff" stroke="#fff" stroke-width="0.75" stroke-linejoin="round">SS</text></g>
<polygon points="0,426.40 26.4,426.40 33.4,438.15 26.4,450.60 0,450.60" fill="#038c99"/>
<g transform="translate(3.10 446.80) scale(0.7034 1)"><text font-size="23.6" font-weight="700" fill="#fff" stroke="#fff" stroke-width="0.75" stroke-linejoin="round">SS</text></g>
<polygon points="0,223.70 25.2,223.70 32.2,235.45 25.2,247.90 0,247.90" fill="#038c99"/>
<polygon points="0,304.30 25.2,304.30 32.2,316.05 25.2,328.50 0,328.50" fill="#038c99"/>
<polygon points="0,384.90 25.2,384.90 32.2,396.65 25.2,409.10 0,409.10" fill="#038c99"/>
</g>
</svg>
</body></html>
